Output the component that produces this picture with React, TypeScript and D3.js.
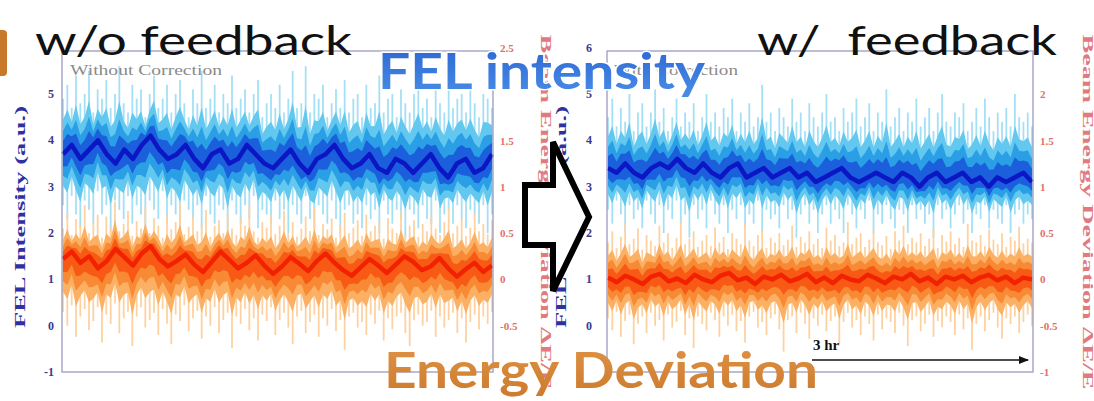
import React from 'react';
import * as d3 from 'd3';

// ---------- data ----------
// Left panel (without feedback): FEL intensity (a.u.)
const LI_MID = [3.7,3.9,3.6,3.8,4.0,3.7,3.5,3.8,3.6,3.9,4.1,3.8,3.6,3.7,3.9,3.6,3.4,3.7,3.8,3.5,3.6,3.9,3.7,3.5,3.4,3.6,3.8,3.5,3.3,3.6,3.7,3.9,3.6,3.4,3.5,3.7,3.4,3.3,3.6,3.5,3.3,3.5,3.7,3.4,3.2,3.5,3.6,3.3,3.4,3.7];
const LI_HI = [4.9,5.2,4.7,5.4,4.8,5.0,5.5,4.6,5.1,4.9,5.3,4.7,5.0,5.6,4.8,4.6,5.2,4.9,5.1,4.5,5.0,5.4,4.7,4.9,5.2,4.6,5.0,5.3,4.8,4.5,5.1,4.8,5.5,4.7,4.9,5.2,4.6,5.0,4.8,5.4,4.7,4.9,5.1,4.6,5.0,5.3,4.5,4.8,5.0,4.7,5.2,4.6,4.9,5.5,4.7,4.8,5.6,4.6,5.0,4.9,5.2,4.5,4.8,5.1,4.7,5.3,4.6,4.9,5.0,4.5,5.2,4.7,4.8,5.4,4.6,4.9,5.0,4.5,5.1,4.8,4.6,5.0,5.3,4.7,4.9,4.5,5.1,4.8,4.6,5.2,4.7,4.9,5.0,4.6,5.1,4.8,4.5,5.0,4.9,4.7];
const LI_LO = [2.6,2.3,2.8,2.4,2.1,2.7,2.5,2.2,2.9,2.4,2.6,2.0,2.7,2.5,2.3,2.8,2.2,2.6,2.4,2.1,2.7,2.5,2.3,2.9,2.2,2.6,2.4,2.0,2.7,2.5,2.3,2.6,2.1,2.8,2.4,2.2,2.6,2.5,1.9,2.7,2.4,2.2,2.6,2.3,2.8,2.1,2.5,2.4,2.2,2.7,2.3,2.5,2.0,2.6,2.4,2.2,2.8,2.3,2.1,2.6,2.4,2.2,2.7,2.3,2.0,2.5,2.6,2.2,2.4,2.1,2.6,2.3,2.5,2.0,2.7,2.4,2.2,2.5,2.3,1.9,2.5,2.4,2.1,2.6,2.3,2.2,2.7,2.0,2.4,2.5,2.2,2.6,2.3,2.1,2.5,2.4,2.2,2.6,2.0,2.4];
// Left panel: beam energy deviation
const LE_MID = [0.22,0.30,0.18,0.25,0.12,0.20,0.33,0.24,0.15,0.28,0.36,0.22,0.14,0.20,0.27,0.16,0.08,0.19,0.30,0.21,0.12,0.18,0.26,0.15,0.06,0.14,0.24,0.17,0.09,0.20,0.28,0.18,0.10,0.04,0.13,0.22,0.15,0.07,0.16,0.25,0.19,0.10,0.14,0.23,0.12,0.03,0.11,0.18,0.08,0.15];
const LE_HI = [0.55,0.72,0.48,0.65,0.58,0.80,0.50,0.62,0.70,0.45,0.68,0.56,0.84,0.52,0.60,0.74,0.47,0.63,0.55,0.78,0.50,0.66,0.58,0.45,0.70,0.54,0.62,0.82,0.49,0.57,0.68,0.52,0.60,0.75,0.46,0.58,0.64,0.50,0.72,0.55,0.48,0.66,0.58,0.80,0.52,0.45,0.62,0.56,0.70,0.49,0.58,0.74,0.50,0.62,0.46,0.55,0.68,0.52,0.78,0.48,0.60,0.54,0.66,0.45,0.58,0.72,0.50,0.56,0.64,0.47,0.70,0.52,0.58,0.62,0.44,0.66,0.55,0.50,0.74,0.48,0.58,0.64,0.46,0.60,0.52,0.70,0.55,0.48,0.62,0.78,0.50,0.58,0.66,0.47,0.56,0.72,0.52,0.60,0.49,0.64];
const LE_LO = [-0.35,-0.50,-0.28,-0.62,-0.40,-0.32,-0.55,-0.45,-0.30,-0.68,-0.38,-0.48,-0.26,-0.58,-0.42,-0.35,-0.72,-0.40,-0.30,-0.52,-0.44,-0.36,-0.60,-0.32,-0.48,-0.70,-0.38,-0.45,-0.28,-0.56,-0.42,-0.34,-0.64,-0.40,-0.50,-0.30,-0.58,-0.44,-0.36,-0.74,-0.40,-0.48,-0.32,-0.55,-0.42,-0.66,-0.38,-0.45,-0.30,-0.60,-0.44,-0.36,-0.52,-0.70,-0.40,-0.34,-0.58,-0.46,-0.38,-0.62,-0.42,-0.50,-0.32,-0.56,-0.44,-0.76,-0.40,-0.36,-0.52,-0.46,-0.60,-0.38,-0.48,-0.34,-0.66,-0.42,-0.54,-0.40,-0.36,-0.58,-0.72,-0.44,-0.38,-0.50,-0.46,-0.34,-0.62,-0.40,-0.52,-0.44,-0.36,-0.58,-0.42,-0.68,-0.46,-0.38,-0.54,-0.40,-0.48,-0.35];
// Right panel (with feedback): FEL intensity
const RI_MID = [3.4,3.3,3.5,3.3,3.2,3.4,3.5,3.4,3.6,3.4,3.3,3.5,3.3,3.2,3.4,3.5,3.2,3.3,3.4,3.2,3.3,3.4,3.2,3.3,3.1,3.2,3.3,3.4,3.2,3.1,3.2,3.3,3.2,3.1,3.3,3.2,3.0,3.2,3.3,3.1,3.2,3.3,3.1,3.2,3.0,3.2,3.1,3.2,3.3,3.1];
const RI_HI = [4.5,4.9,4.3,4.7,4.4,5.0,4.2,4.6,4.8,4.3,4.6,5.1,4.4,4.7,4.2,4.5,4.9,4.3,4.6,4.4,4.8,4.2,4.5,5.0,4.4,4.6,4.3,4.7,4.5,4.9,4.2,4.6,4.4,4.8,4.3,4.5,5.2,4.4,4.6,4.2,4.7,4.5,4.3,4.9,4.4,4.6,4.2,4.8,4.5,4.3,4.6,5.0,4.4,4.5,4.2,4.7,4.4,4.6,4.9,4.3,4.5,4.8,4.2,4.6,4.4,5.1,4.3,4.5,4.7,4.2,4.6,4.4,4.9,4.3,4.5,4.7,4.2,4.6,5.0,4.4,4.3,4.6,4.5,4.8,4.2,4.4,4.7,4.3,4.9,4.5,4.2,4.6,4.4,4.7,4.3,5.0,4.5,4.4,4.6,4.3];
const RI_LO = [2.5,2.2,2.7,2.4,2.0,2.6,2.3,2.5,2.1,2.7,2.4,2.2,2.6,2.0,2.5,2.3,2.7,2.2,2.4,1.9,2.6,2.3,2.5,2.1,2.7,2.4,2.2,2.6,2.0,2.5,2.3,2.6,2.1,2.4,2.2,2.7,2.0,2.5,2.3,2.4,2.1,2.6,2.3,2.5,1.9,2.4,2.6,2.2,2.5,2.0,2.4,2.6,2.2,2.5,2.3,2.0,2.6,2.4,2.1,2.5,2.3,2.7,2.0,2.4,2.2,2.6,2.3,2.1,2.5,2.4,2.0,2.6,2.3,2.5,2.2,2.4,1.9,2.6,2.3,2.5,2.1,2.4,2.6,2.2,2.5,2.0,2.4,2.3,2.6,2.1,2.5,2.3,2.2,2.6,2.0,2.4,2.5,2.2,2.4,2.3];
// Right panel: beam energy deviation
const RE_MID = [0.02,-0.03,0.04,0.00,-0.05,0.03,0.06,-0.02,0.01,-0.04,0.05,0.00,-0.03,0.04,0.07,-0.01,0.02,-0.05,0.03,0.00,0.05,-0.02,0.01,0.06,-0.03,0.02,-0.04,0.04,0.00,-0.02,0.05,0.01,-0.04,0.03,0.00,0.06,-0.02,0.02,-0.05,0.03,0.00,0.04,-0.03,0.02,0.05,-0.01,0.03,-0.04,0.02,0.00];
const RE_HI = [0.40,0.52,0.34,0.46,0.60,0.38,0.44,0.55,0.32,0.48,0.42,0.36,0.58,0.40,0.50,0.34,0.45,0.62,0.38,0.44,0.52,0.35,0.42,0.48,0.36,0.56,0.40,0.46,0.33,0.50,0.44,0.38,0.60,0.42,0.36,0.48,0.54,0.34,0.45,0.40,0.50,0.37,0.43,0.58,0.35,0.46,0.40,0.52,0.38,0.44,0.34,0.56,0.42,0.48,0.36,0.40,0.62,0.38,0.45,0.50,0.35,0.43,0.54,0.40,0.37,0.47,0.33,0.52,0.42,0.58,0.38,0.45,0.40,0.50,0.36,0.44,0.56,0.34,0.48,0.41,0.52,0.38,0.45,0.35,0.60,0.42,0.40,0.48,0.36,0.54,0.43,0.38,0.50,0.35,0.46,0.42,0.57,0.39,0.44,0.40];
const RE_LO = [-0.42,-0.55,-0.35,-0.62,-0.45,-0.38,-0.70,-0.48,-0.40,-0.58,-0.36,-0.50,-0.44,-0.66,-0.38,-0.52,-0.46,-0.34,-0.60,-0.42,-0.74,-0.40,-0.48,-0.55,-0.36,-0.44,-0.62,-0.40,-0.50,-0.38,-0.56,-0.45,-0.68,-0.40,-0.35,-0.52,-0.46,-0.60,-0.42,-0.38,-0.54,-0.78,-0.44,-0.40,-0.58,-0.36,-0.48,-0.64,-0.42,-0.50,-0.38,-0.56,-0.45,-0.40,-0.70,-0.46,-0.36,-0.52,-0.44,-0.60,-0.40,-0.48,-0.66,-0.38,-0.54,-0.42,-0.46,-0.58,-0.36,-0.50,-0.72,-0.44,-0.40,-0.56,-0.48,-0.38,-0.62,-0.45,-0.52,-0.40,-0.46,-0.60,-0.38,-0.54,-0.42,-0.76,-0.48,-0.40,-0.56,-0.44,-0.36,-0.52,-0.64,-0.42,-0.48,-0.40,-0.58,-0.46,-0.38,-0.50];

// tick labels (ticks hidden under the captions in the picture are left out)
const INT_TICKS_LEFT = [-1, 0, 1, 2, 3, 4, 5];
const INT_TICKS_RIGHT = [0, 1, 2, 3, 4, 5, 6];
const E_TICKS_LEFT = [-0.5, 0, 0.5, 1, 1.5, 2.5];
const E_TICKS_RIGHT = [-1, -0.5, 0, 0.5, 1, 1.5, 2];

// ---------- layout ----------
const W = 1094, H = 401;
const Y_TOP = 51, Y_BOT = 372;
const yInt = d3.scaleLinear().domain([-1, 5]).range([Y_BOT, 94]);
const yE = d3.scaleLinear().domain([-1, 2.5]).range([Y_BOT, 48]);

const BLUE = { rule: '#a4e0f5', l1: '#62c8ef', l2: '#2c9fe6', l3: '#1a5fdc', line: '#0a14c4' };
const ORANGE = { rule: '#fdd2a0', l1: '#fbb064', l2: '#f88a34', l3: '#f85a14', line: '#f22400' };

const SERIF = "'Liberation Serif', 'DejaVu Serif', serif";
const SANS = "Lato, 'Open Sans', 'Noto Sans', sans-serif";

function Bands({ mid, hi, lo, x0, x1, y, pal }: any) {
  const n = hi.length;
  const xe = d3.scaleLinear().domain([0, n - 1]).range([x0 + 1, x1 - 1]);
  const xm = d3.scaleLinear().domain([0, mid.length - 1]).range([x0 + 1, x1 - 1]);
  const midAt = (j: number) => {
    const t = (j * (mid.length - 1)) / (n - 1);
    const i = Math.floor(t);
    const r = t - i;
    return i + 1 < mid.length ? mid[i] * (1 - r) + mid[i + 1] * r : mid[i];
  };
  const band = (f: number) =>
    d3
      .area<number>()
      .x((_, j) => xe(j))
      .y0((_, j) => y(midAt(j) + f * (lo[j] - midAt(j))))
      .y1((_, j) => y(midAt(j) + f * (hi[j] - midAt(j))))(hi) || '';
  const ln = d3.line<number>().x((_, i) => xm(i)).y((v) => y(v));
  return (
    <g>
      {hi.map((h: number, j: number) => (
        <line key={j} x1={xe(j)} x2={xe(j)} y1={y(h)} y2={y(lo[j])} stroke={pal.rule} strokeWidth={1.8} />
      ))}
      <path d={band(0.62)} fill={pal.l1} />
      <path d={band(0.42)} fill={pal.l2} />
      <path d={band(0.24)} fill={pal.l3} />
      <path d={ln(mid) || ''} fill="none" stroke={pal.line} strokeWidth={4.5} strokeLinejoin="round" />
    </g>
  );
}

function Panel({ x0, x1, iMid, iHi, iLo, eMid, eHi, eLo, intTicks, eTicks, leftLabelX, rightLabelX, leftTitleX, rightTitleX }: any) {
  return (
    <g>
      <g filter="url(#soft)">
        <Bands mid={iMid} hi={iHi} lo={iLo} x0={x0} x1={x1} y={yInt} pal={BLUE} />
        <Bands mid={eMid} hi={eHi} lo={eLo} x0={x0} x1={x1} y={yE} pal={ORANGE} />
      </g>
      <rect x={x0} y={Y_TOP} width={x1 - x0} height={Y_BOT - Y_TOP} fill="none" stroke="#9a9ac0" strokeWidth={1.3} />
      {intTicks.map((t: number) => (
        <text key={'i' + t} x={leftLabelX} y={yInt(t) + 4} textAnchor="end" fontFamily={SERIF} fontWeight="bold" fontSize={12} fill="#3a3a8c">
          {String(t)}
        </text>
      ))}
      {eTicks.map((t: number) => (
        <text key={'e' + t} x={rightLabelX} y={yE(t) + 4} textAnchor="start" fontFamily={SERIF} fontWeight="bold" fontSize={11} fill="#e0706a">
          {String(t)}
        </text>
      ))}
      <text transform={`translate(${leftTitleX},217) rotate(-90)`} textAnchor="middle" fontFamily={SERIF} fontWeight="bold" fontSize={15} fill="#3030a0" textLength={222} lengthAdjust="spacingAndGlyphs">
        FEL Intensity (a.u.)
      </text>
      <text transform={`translate(${rightTitleX},212) rotate(90)`} textAnchor="middle" fontFamily={SERIF} fontWeight="bold" fontSize={14} fill="#e07a80" textLength={355} lengthAdjust="spacingAndGlyphs">
        Beam Energy Deviation ΔE/E
      </text>
    </g>
  );
}

export default function App() {
  return (
    <svg width={W} height={H} viewBox={`0 0 ${W} ${H}`} style={{ position: 'absolute', left: 0, top: 0, background: '#fff' }}>
      <defs>
        <filter id="soft" x="-5%" y="-5%" width="110%" height="110%">
          <feGaussianBlur stdDeviation="0.6" />
        </filter>
        <marker id="ah" viewBox="0 0 10 10" refX="9" refY="5" markerWidth="7" markerHeight="7" orient="auto">
          <path d="M0,1 L10,5 L0,9 Z" fill="#111" />
        </marker>
        <linearGradient id="felg" x1="0" y1="0" x2="0" y2="1">
          <stop offset="0" stopColor="#2a63d2" />
          <stop offset="1" stopColor="#4a8fe6" />
        </linearGradient>
        <linearGradient id="edg" x1="0" y1="0" x2="0" y2="1">
          <stop offset="0" stopColor="#e09448" />
          <stop offset="1" stopColor="#cc7a2c" />
        </linearGradient>
      </defs>
      <rect x={0} y={0} width={W} height={H} fill="#fff" />
      <rect x={-6} y={30} width={13} height={46} rx={4} fill="#c8782a" />

      <Panel x0={62} x1={493} iMid={LI_MID} iHi={LI_HI} iLo={LI_LO} eMid={LE_MID} eHi={LE_HI} eLo={LE_LO}
        intTicks={INT_TICKS_LEFT} eTicks={E_TICKS_LEFT} leftLabelX={54} rightLabelX={500} leftTitleX={25} rightTitleX={541} />
      <Panel x0={607} x1={1033} iMid={RI_MID} iHi={RI_HI} iLo={RI_LO} eMid={RE_MID} eHi={RE_HI} eLo={RE_LO}
        intTicks={INT_TICKS_RIGHT} eTicks={E_TICKS_RIGHT} leftLabelX={592} rightLabelX={1040} leftTitleX={566} rightTitleX={1083} />

      <text x={70} y={75} fontFamily={SERIF} fontSize={15} fill="#8a8a8a" textLength={152} lengthAdjust="spacingAndGlyphs">Without Correction</text>
      <text x={614} y={75} fontFamily={SERIF} fontSize={15} fill="#8a8a8a" textLength={124} lengthAdjust="spacingAndGlyphs">With Correction</text>

      <path d="M525,185 L553,185 L553,142 L589,217 L553,291 L553,245 L525,245 Z" fill="#fff" stroke="#000" strokeWidth={6} strokeLinejoin="miter" />

      <line x1={812} y1={360} x2={1028} y2={360} stroke="#111" strokeWidth={1.5} markerEnd="url(#ah)" />
      <text x={813} y={350} fontFamily={SERIF} fontWeight="bold" fontSize={15} fill="#111">3 hr</text>

      <text x={35} y={55} fontFamily={SANS} fontSize={40} fill="#111" textLength={317} lengthAdjust="spacingAndGlyphs">w/o feedback</text>
      <text x={757} y={55} fontFamily={SANS} fontSize={40} fill="#111" textLength={300} lengthAdjust="spacingAndGlyphs" style={{ whiteSpace: 'pre' }}>w/  feedback</text>
      <text x={378} y={89} fontFamily={SANS} fontWeight="bold" fontSize={49} fill="url(#felg)" stroke="#fff" strokeWidth={3} paintOrder="stroke" textLength={327} lengthAdjust="spacingAndGlyphs">FEL intensity</text>
      <text x={384} y={388} fontFamily={SANS} fontWeight="bold" fontSize={50} fill="url(#edg)" textLength={434} lengthAdjust="spacingAndGlyphs">Energy Deviation</text>
    </svg>
  );
}
